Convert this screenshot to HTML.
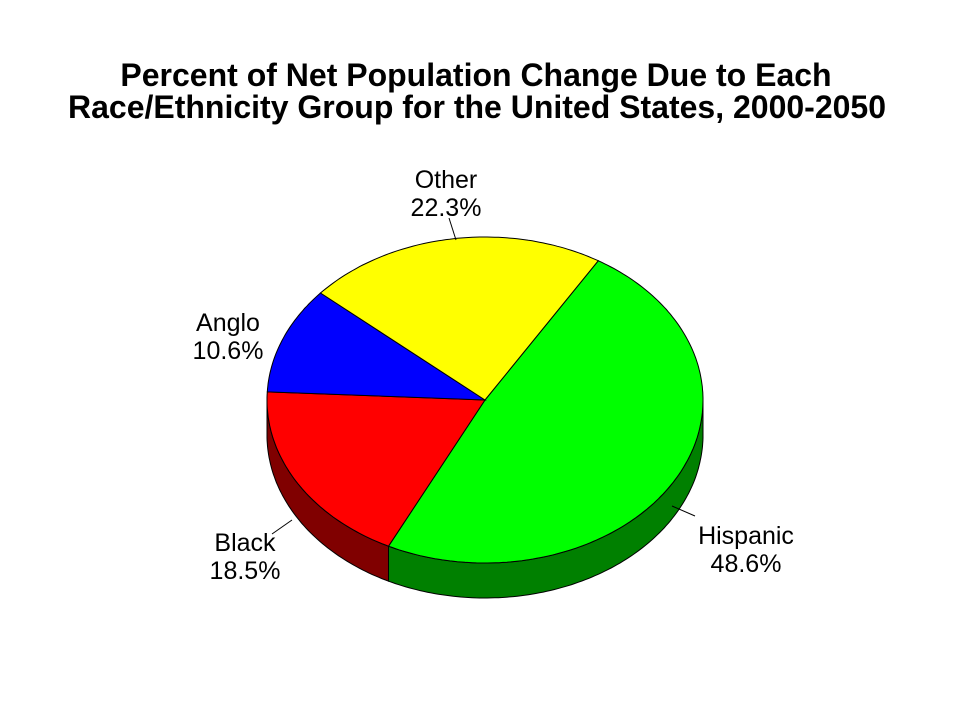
<!DOCTYPE html>
<html><head><meta charset="utf-8">
<style>
html,body{margin:0;padding:0;background:#fff;}
body{width:960px;height:720px;overflow:hidden;font-family:"Liberation Sans",Arial,sans-serif;}
</style></head>
<body>
<svg id="chart" width="960" height="720" xmlns="http://www.w3.org/2000/svg">
<text x="476" y="86" text-anchor="middle" font-size="32" font-weight="bold" font-family="Liberation Sans, Arial, sans-serif">Percent of Net Population Change Due to Each</text>
<text x="477" y="118" text-anchor="middle" font-size="32" font-weight="bold" font-family="Liberation Sans, Arial, sans-serif">Race/Ethnicity Group for the United States, 2000-2050</text>
<g id="pie"></g>
<g id="labels"></g>
</svg>
<script>
const categories = ["Hispanic","Black","Anglo","Other"];
const values = [48.6,18.5,10.6,22.3];
const valueLabels = ["48.6%","18.5%","10.6%","22.3%"];
const topColors = ["#00ff00","#ff0000","#0000ff","#ffff00"];
const sideColors = ["#008000","#800000","#000080","#808000"];

const cx=485, cy=400, rx=218, ry=163, depth=35, startDeg=-58.7;
const NS="http://www.w3.org/2000/svg";
const pie=document.getElementById('pie');
const labels=document.getElementById('labels');
function pt(deg,dy){const a=deg*Math.PI/180;return [cx+rx*Math.cos(a), cy+ry*Math.sin(a)+(dy||0)];}
function arcPts(a1,a2,dy){const p=[];const n=Math.max(2,Math.ceil(Math.abs(a2-a1)));for(let i=0;i<=n;i++){p.push(pt(a1+(a2-a1)*i/n,dy));}return p;}
const total=values.reduce((s,v)=>s+v,0);
let ang=startDeg;
const slices=values.map((v,i)=>{const a1=ang;const a2=ang+v/total*360;ang=a2;return [a1,a2];});

slices.forEach(([a1,a2],i)=>{
  for(const off of [-360,0,360]){
    const s=Math.max(a1+off,0), e=Math.min(a2+off,180);
    if(e>s){
      const top=arcPts(s,e,0), bot=arcPts(e,s,depth);
      const d="M"+top.concat(bot).map(p=>p[0].toFixed(1)+","+p[1].toFixed(1)).join("L")+"Z";
      const path=document.createElementNS(NS,'path');
      
      
      path.setAttribute('d',d);path.setAttribute('fill',sideColors[i]);path.setAttribute('stroke','#000');path.setAttribute('stroke-width','1');
      pie.appendChild(path);
    }
  }
});
slices.forEach(([a1,a2],i)=>{
  const pts=arcPts(a1,a2,0);
  const d="M"+cx+","+cy+"L"+pts.map(p=>p[0].toFixed(1)+","+p[1].toFixed(1)).join("L")+"Z";
  const path=document.createElementNS(NS,'path');
  
  
  path.setAttribute('d',d);path.setAttribute('fill',topColors[i]);path.setAttribute('stroke','#000');path.setAttribute('stroke-width','1');
  pie.appendChild(path);
});
const labelPos={Hispanic:[746,544,695,516,672,506],Black:[245,551,272,534,292,520],Anglo:[228,331,null],Other:[446,188,449,218,456,240]};
categories.forEach((c,i)=>{
  const lp=labelPos[c];
  const t1=document.createElementNS(NS,'text');
  
  
  t1.setAttribute('x',lp[0]);t1.setAttribute('y',lp[1]);t1.setAttribute('text-anchor','middle');t1.setAttribute('font-size','25');
  t1.textContent=c;labels.appendChild(t1);
  const t2=document.createElementNS(NS,'text');
  
  
  t2.setAttribute('x',lp[0]);t2.setAttribute('y',lp[1]+28);t2.setAttribute('text-anchor','middle');t2.setAttribute('font-size','25');
  t2.textContent=valueLabels[i];labels.appendChild(t2);
  if(lp[2]!==null){
    const l=document.createElementNS(NS,'line');
    
    
    l.setAttribute('x1',lp[2]);l.setAttribute('y1',lp[3]);l.setAttribute('x2',lp[4]);l.setAttribute('y2',lp[5]);
    l.setAttribute('stroke','#000');l.setAttribute('stroke-width','1');labels.appendChild(l);
  }
});
</script>
</body></html>
